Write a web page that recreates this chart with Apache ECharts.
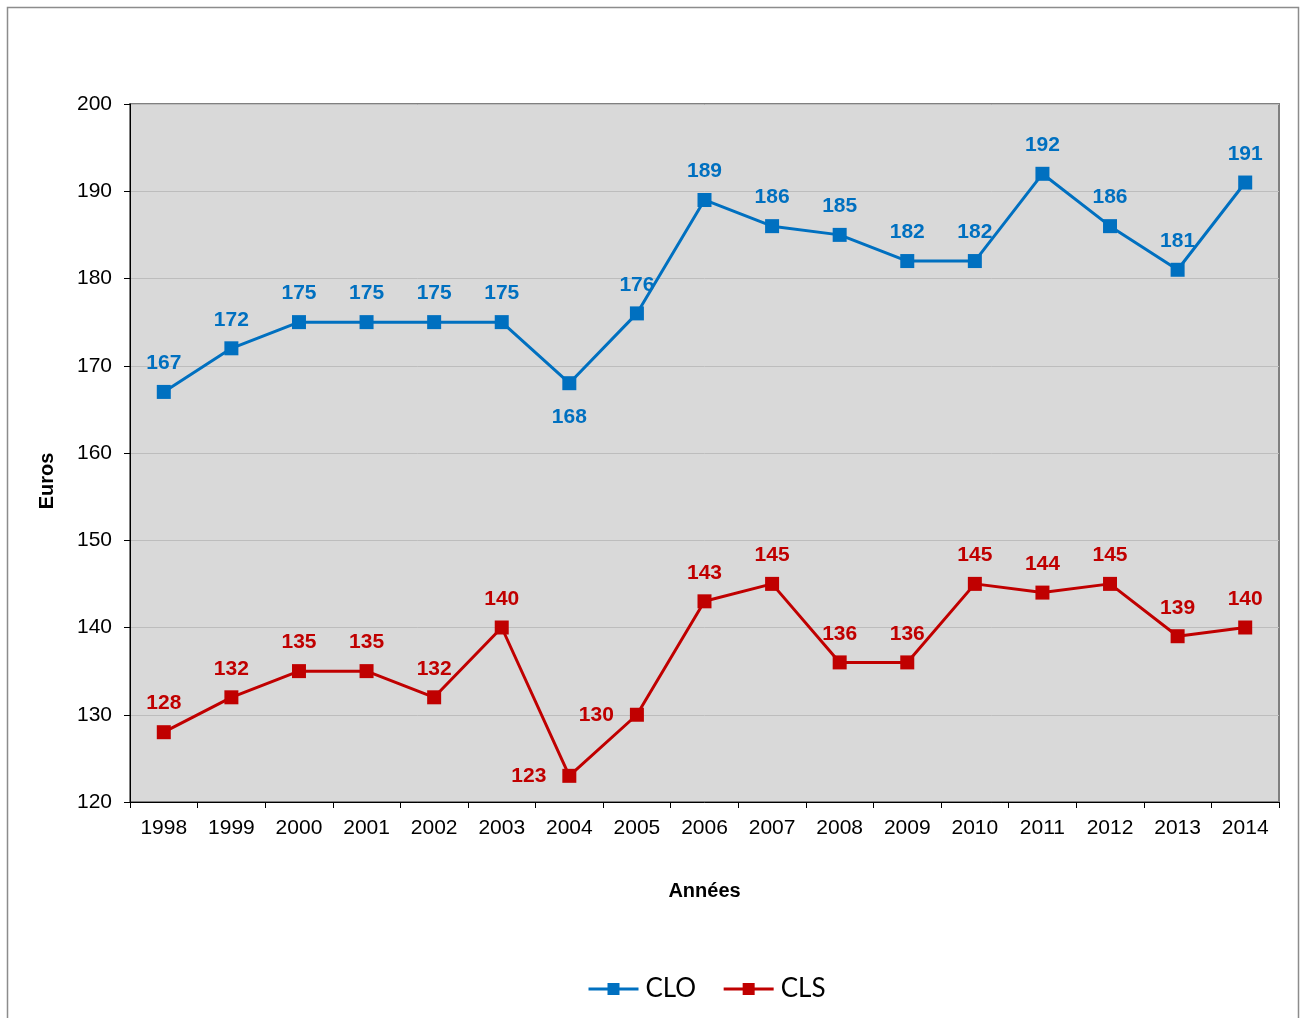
<!DOCTYPE html>
<html><head><meta charset="utf-8">
<script src="https://cdn.jsdelivr.net/npm/echarts@6/dist/echarts.min.js"></script>
<style>html,body{margin:0;padding:0;background:#fff}#c{width:1306px;height:1018px}</style>
</head><body><div id="c"></div>
<script>
const years = ['1998','1999','2000','2001','2002','2003','2004','2005','2006','2007','2008','2009','2010','2011','2012','2013','2014'];
const clo = [167,172,175,175,175,175,168,176,189,186,185,182,182,192,186,181,191];
const cls = [128,132,135,135,132,140,123,130,143,145,136,136,145,144,145,139,140];
const cloLabelPos = {6:'bottom'};
const clsLabelPos = {6:'left',7:'left'};

function build(vals, posMap){
  return vals.map((v,i)=>{
    const p = posMap[i];
    if(!p) return v;
    return {value:v,label:{position:p,distance: p==='left'?16:17}};
  });
}
const chart = echarts.init(document.getElementById('c'));
const lbl = (color)=>({show:true,position:'top',distance:11,color:color,fontFamily:'Liberation Sans, Arial',fontWeight:'bold',fontSize:21});
chart.setOption({
  animation:false,
  backgroundColor:'#fff',
  graphic:[
    {type:'rect',shape:{x:7.5,y:7.5,width:1291,height:1040},style:{fill:'none',stroke:'#8c8c8c',lineWidth:1.5},silent:true},
    {type:'text',x:47,y:481,rotation:Math.PI/2,style:{text:'Euros',fill:'#000',fontFamily:'Liberation Sans, Arial',fontWeight:'bold',fontSize:20,align:'center',verticalAlign:'middle'},silent:true}
  ],
  grid:{left:130,top:104,width:1149,height:698,show:true,backgroundColor:'#D9D9D9',borderColor:'#808080',borderWidth:2},
  legend:{top:971,left:582,itemWidth:50,itemHeight:15,itemGap:26,
    lineStyle:{width:3},
    textStyle:{fontFamily:'Lato, Carlito, Open Sans',fontSize:26,color:'#000',padding:[0,0,0,2]},
    data:['CLO','CLS']},
  xAxis:{type:'category',data:years,boundaryGap:true,
    name:'Années',nameLocation:'middle',nameGap:79,
    nameTextStyle:{fontFamily:'Liberation Sans, Arial',fontWeight:'bold',fontSize:20,color:'#000'},
    axisLine:{lineStyle:{color:'#000',width:1}},
    axisTick:{show:true,length:6,lineStyle:{color:'#000'}},
    axisLabel:{fontFamily:'Liberation Sans, Arial',fontSize:21,color:'#000',margin:16}},
  yAxis:{type:'value',min:120,max:200,interval:10,
    axisLine:{show:true,lineStyle:{color:'#000',width:1}},
    axisTick:{show:true,length:6,lineStyle:{color:'#000'}},
    axisLabel:{fontFamily:'Liberation Sans, Arial',fontSize:21,color:'#000',margin:18},
    splitLine:{lineStyle:{color:'#BDBDBD',width:1}}},
  series:[
    {name:'CLO',type:'line',data:build(clo,cloLabelPos),symbol:'rect',symbolSize:14,
     lineStyle:{color:'#0070C0',width:3},itemStyle:{color:'#0070C0'},label:lbl('#0070C0')},
    {name:'CLS',type:'line',data:build(cls,clsLabelPos),symbol:'rect',symbolSize:14,
     lineStyle:{color:'#C00000',width:3},itemStyle:{color:'#C00000'},label:lbl('#C00000')}
  ]
});
</script></body></html>
